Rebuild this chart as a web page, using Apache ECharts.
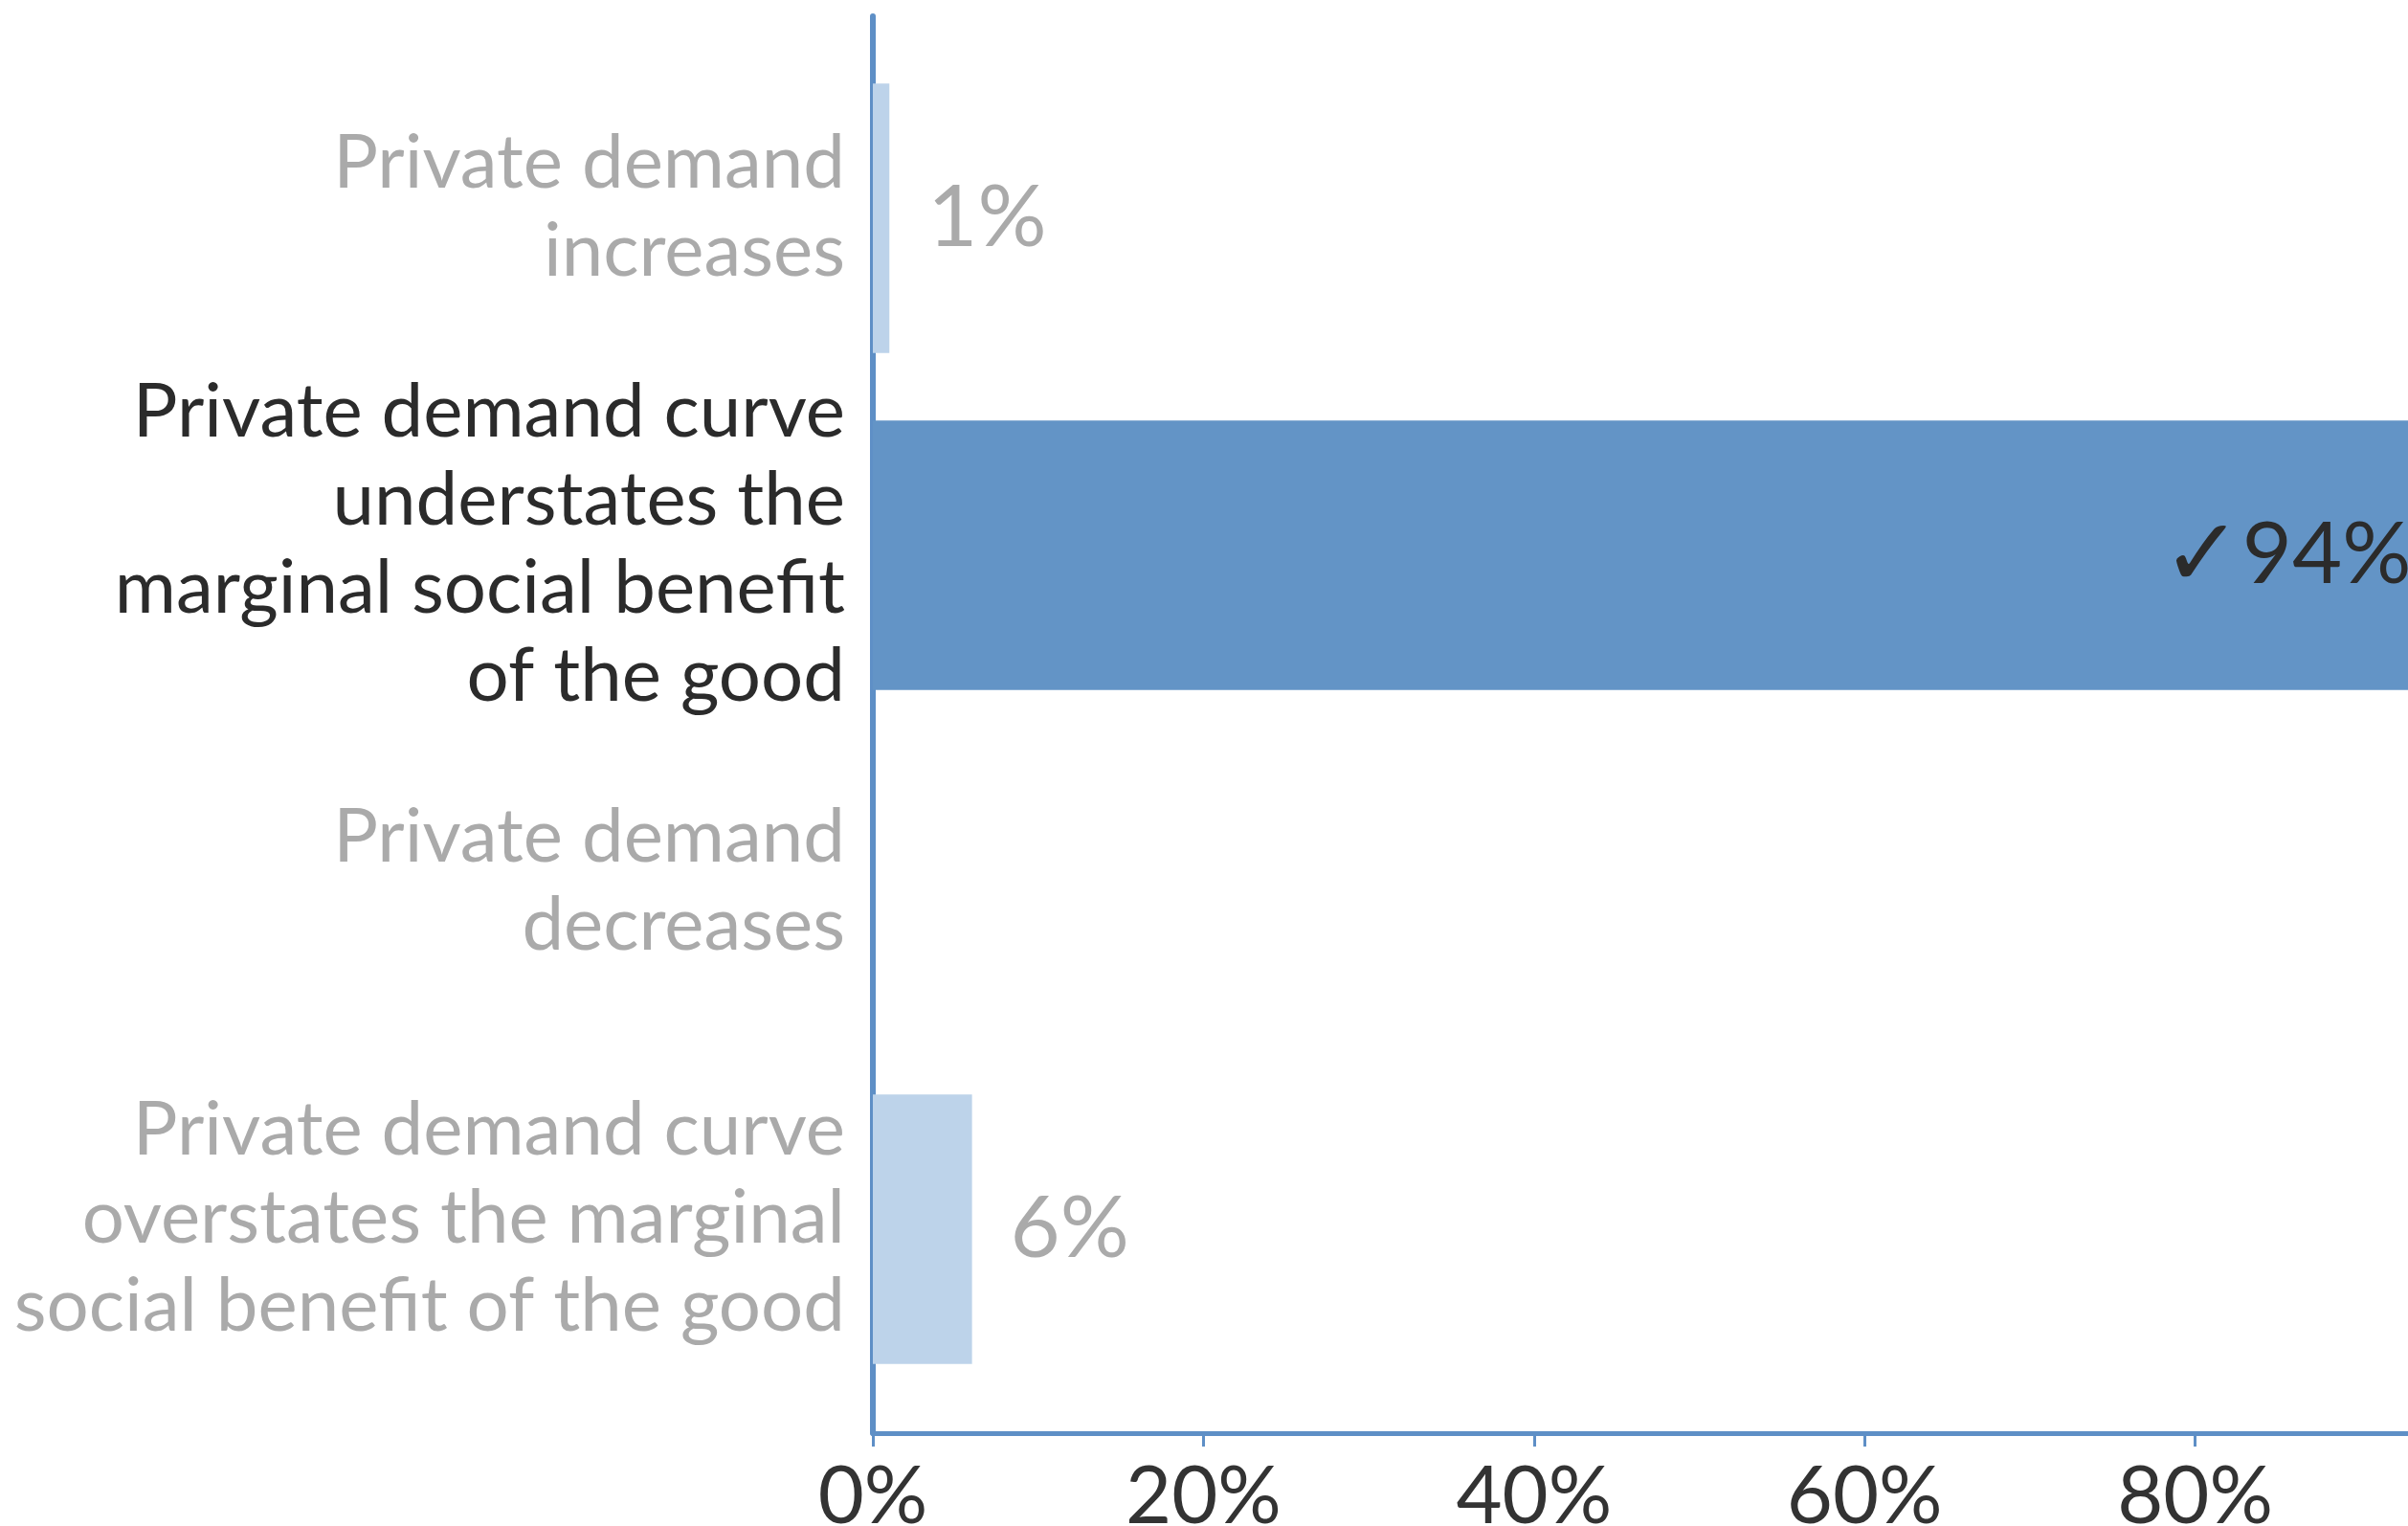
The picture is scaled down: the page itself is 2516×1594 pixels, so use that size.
<!DOCTYPE html>
<html>
<head>
<meta charset="utf-8">
<script src="https://cdn.jsdelivr.net/npm/echarts@6/dist/echarts.min.js"></script>
<style>
html,body{margin:0;padding:0;background:#fff;}
#chart{width:2516px;height:1594px;}
</style>
</head>
<body>
<div id="chart"></div>
<script>
const categories = [
  "Private demand\nincreases",
  "Private demand curve\nunderstates the\nmarginal social benefit\nof the good",
  "Private demand\ndecreases",
  "Private demand curve\noverstates the marginal\nsocial benefit of the good"
];
const values = [1, 94, 0, 6];
const correct = [false, true, false, false];
const tickValues = [0, 20, 40, 60, 80, 100];

const FONT = "'Source Sans Pro', Lato, 'Noto Sans', sans-serif";
const FS = 78;
const darkBlue = '#6394c6';
const lightBlue = '#bdd3ea';
const axisBlue = '#5e8fc6';

const chart = echarts.init(document.getElementById('chart'), null, {renderer: 'canvas'});
chart.setOption({
  animation: false,
  backgroundColor: '#fff',
  grid: [
    {left: 912, width: 1727, top: 52, bottom: 134, containLabel: false, outerBoundsMode: 'none'},
    {left: 912, width: 1727, top: 17, bottom: 97, containLabel: false, outerBoundsMode: 'none'}
  ],
  xAxis: [
    {gridIndex: 0, type: 'value', min: 0, max: 100, interval: 20, show: false},
    {gridIndex: 1, type: 'value', min: tickValues[0], max: tickValues[tickValues.length-1], interval: 20,
     axisLine: {show: true, lineStyle: {color: axisBlue, width: 5}},
     axisTick: {show: true, length: 14, lineStyle: {color: axisBlue, width: 3}},
     splitLine: {show: false},
     axisLabel: {fontFamily: FONT, fontSize: 83, color: '#333', margin: 26,
       formatter: v => v + '%'}}
  ],
  yAxis: [
    {gridIndex: 0, type: 'category', inverse: true, data: categories,
     axisLine: {show: false}, axisTick: {show: false}, splitLine: {show: false},
     axisLabel: {margin: 29, align: 'right',
       formatter: (v, i) => v.split('\n').map(l => '{' + (correct[i] ? 'b' : 'a') + '|' + l + '}').join('\n') + '\n{s| }',
       rich: {
         a: {fontFamily: FONT, fontSize: FS, lineHeight: 92, color: '#aaaaaa', align: 'right'},
         b: {fontFamily: FONT, fontSize: FS, lineHeight: 92, color: '#2b2b2b', align: 'right'},
         s: {fontSize: 10, lineHeight: 22}
       }}},
    {gridIndex: 1, type: 'value', min: 0, max: 1,
     axisLine: {show: true, onZero: false, lineStyle: {color: axisBlue, width: 6}},
     axisTick: {show: false}, axisLabel: {show: false}, splitLine: {show: false}}
  ],
  series: [{
    type: 'bar',
    xAxisIndex: 0, yAxisIndex: 0,
    barCategoryGap: '20%',
    data: values.map((v, i) => ({
      value: v,
      itemStyle: {color: correct[i] ? darkBlue : lightBlue},
      label: correct[i]
        ? {show: true, position: 'insideRight', distance: 16, color: '#2b2b2b', formatter: '{c|✓}' + v + '%',
           rich: {c: {fontFamily: FONT, fontSize: 100, color: '#2b2b2b'}}}
        : {show: v > 0, position: 'right', distance: 40, color: '#aaaaaa', formatter: v + '%'}
    })),
    label: {fontFamily: FONT, fontSize: 90},
    z: 1
  }]
});
</script>
</body>
</html>
